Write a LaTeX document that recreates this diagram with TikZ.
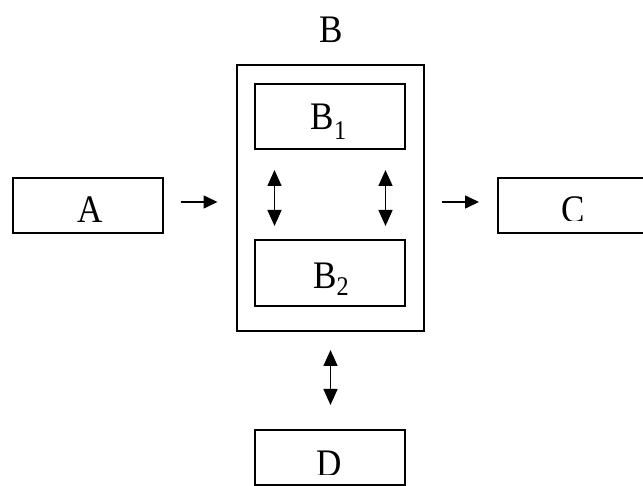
\documentclass[tikz,border=0pt]{standalone}
\usepackage{fontspec}
\setmainfont{Liberation Serif}
\newfontfamily\labfont[FakeStretch=0.9]{Liberation Serif}
\usetikzlibrary{arrows.meta}
\begin{document}
\begin{tikzpicture}[x=1pt,y=-1pt,
  box/.style={draw,line width=2pt,inner sep=0pt,outer sep=0pt},
  smallbox/.style={box,minimum width=150pt,minimum height=55pt},
  lab/.style={anchor=base,inner sep=0pt,font=\labfont\fontsize{39}{39}\selectfont},
  harr/.style={line width=1.6pt,-{Triangle[length=14pt,width=13pt]}},
  varr/.style={line width=1.6pt,{Triangle[length=16pt,width=14pt]}-{Triangle[length=16pt,width=14pt]}}]
\fill[white] (0,0) rectangle (643,486);
\useasboundingbox (0,0) rectangle (643,486);
\clip (0,0) rectangle (643,486);

% boxes
\node[smallbox] (A) at (87.5,205.5) {};
\node[box,minimum width=187pt,minimum height=266pt] (Bo) at (330.5,198) {};
\node[box,minimum width=150pt,minimum height=65pt] (B1) at (330.25,116.3) {};
\node[box,minimum width=150pt,minimum height=66pt] (B2) at (330.25,273) {};
\node[smallbox] (C) at (573,205.5) {};
\node[smallbox] (D) at (330.25,457.5) {};

% labels
\node[lab] (tB) at (331,42.3) {B};
\node[lab] (tA) at (90,222.3) {A};
\node[lab] (tB1) at (328.5,130) {B\raisebox{-10pt}{\fontsize{27}{27}\selectfont 1}};
\node[lab] (tB2) at (331,289) {B\raisebox{-7pt}{\fontsize{27}{27}\selectfont 2}};
\begin{scope}
  \clip (540,180) rectangle (610,221);
  \node[lab] (tC) at (573.7,223) {C};
\end{scope}
\begin{scope}
  \clip (300,440) rectangle (360,474);
  \node[lab] (tD) at (329.5,476.7) {D};
\end{scope}

% connector end points
\coordinate (ab1) at (180.5,202);
\coordinate (ab2) at (217.5,202);
\coordinate (bc1) at (442,202);
\coordinate (bc2) at (479,202);
\coordinate (l1) at (274.5,170);
\coordinate (l2) at (274.5,226);
\coordinate (r1) at (385.5,170);
\coordinate (r2) at (385.5,226);
\coordinate (d1) at (330.5,350);
\coordinate (d2) at (330.5,405);

\draw[harr] (ab1) -- (ab2);
\draw[harr] (bc1) -- (bc2);
\draw[varr] (l1) -- (l2);
\draw[varr] (r1) -- (r2);
\draw[varr] (d1) -- (d2);
\end{tikzpicture}
\end{document}
